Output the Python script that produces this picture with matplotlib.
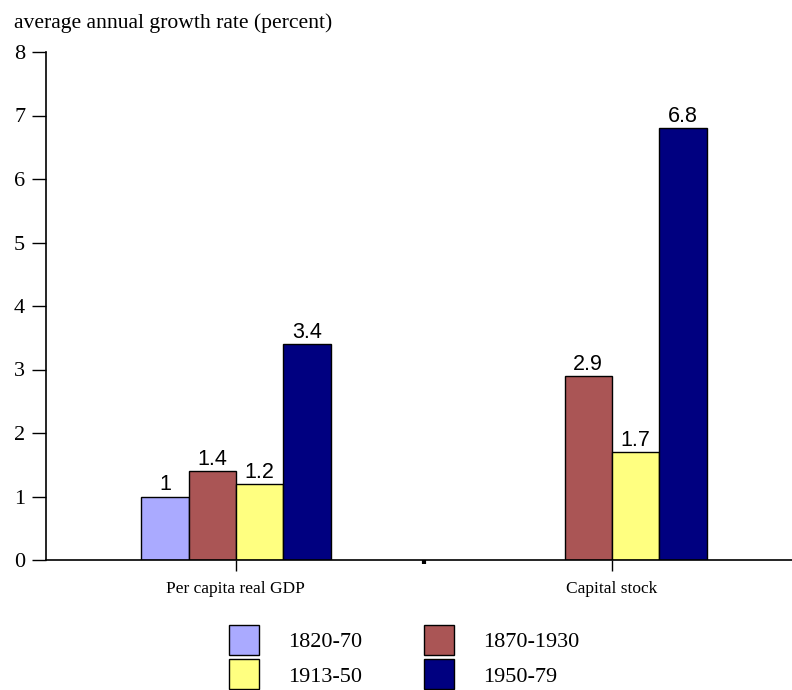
import numpy as np
import matplotlib.pyplot as plt
from matplotlib.patches import Patch

categories = ['Per capita real GDP', 'Capital stock']
periods = ['1820-70', '1870-1930', '1913-50', '1950-79']
growth_1820_70 = [1.0, np.nan]
growth_1870_1930 = [1.4, 2.9]
growth_1913_50 = [1.2, 1.7]
growth_1950_79 = [3.4, 6.8]
colors = ['#AAAAFF', '#AA5555', '#FFFF80', '#000080']

series = [growth_1820_70, growth_1870_1930, growth_1913_50, growth_1950_79]

fig = plt.figure(figsize=(7.92, 6.9), dpi=100)
ax = fig.add_axes([46/792, 1 - 560/690, 1 - 46/792, (560 - 52)/690])

x = np.arange(len(categories))
w = 0.126
for i, vals in enumerate(series):
    pos = x + (i - 1.5) * w
    ax.bar(pos, vals, width=w, color=colors[i], edgecolor='black', linewidth=1)
    for p, v in zip(pos, vals):
        if np.isnan(v):
            continue
        ax.text(p, v + 0.02, f'{v:g}', ha='center', va='bottom',
                family='Liberation Sans', fontsize=15.5)

ax.set_xlim(-0.505, 1.479)
ax.set_ylim(0, 8)
ax.set_yticks(range(0, 9))
ax.set_xticks(x)
ax.set_xticklabels(categories, family='Liberation Serif', fontsize=12.5)
ax.set_xticks([0.5], minor=True)
ax.tick_params(axis='x', which='major', direction='out', length=8, width=1, pad=7)
ax.tick_params(axis='x', which='minor', direction='out', length=3, width=3)
ax.tick_params(axis='y', direction='out', length=10, width=1, pad=5, labelsize=16)
for lab in ax.get_yticklabels():
    lab.set_family('Liberation Serif')
ax.spines['top'].set_visible(False)
ax.spines['right'].set_visible(False)
ax.spines['left'].set_linewidth(1.2)
ax.spines['bottom'].set_linewidth(1.2)

fig.text(14/792, 1 - 28/690, 'average annual growth rate (percent)',
         family='Liberation Serif', fontsize=15.6, va='baseline')

# legend is filled row by row in the original
handles = [Patch(facecolor=c, edgecolor='black', linewidth=1) for c in colors]
order = [0, 2, 1, 3]
fig.legend([handles[k] for k in order], [periods[k] for k in order],
           loc='upper left', bbox_to_anchor=(229/792, 1 - 625/690),
           ncol=2, frameon=False, borderpad=0, borderaxespad=0,
           handlelength=1.35, handleheight=1.7, handletextpad=1.3,
           labelspacing=0.2, columnspacing=2.8,
           prop={'family': 'Liberation Serif', 'size': 16})

fig.savefig('out.png', dpi=100)
